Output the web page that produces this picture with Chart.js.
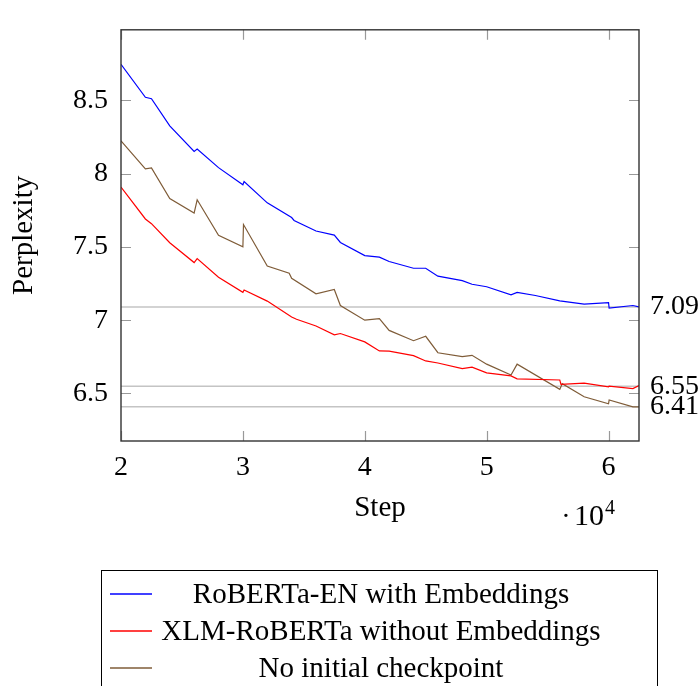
<!DOCTYPE html>
<html><head><meta charset="utf-8">
<script src="https://cdn.jsdelivr.net/npm/chart.js@4.4.0/dist/chart.umd.min.js"></script>
<style>html,body{margin:0;padding:0;background:#fff}#wrap{width:699px;height:686px;position:relative}canvas{display:block}</style>
</head><body><div id="wrap"><canvas id="c" width="699" height="686"></canvas></div>
<script>
const FONT = '"Liberation Serif", "Times New Roman", serif';
const FS = 28;

const xTicks = [20000, 30000, 40000, 50000, 60000];
const yTicks = [6.5, 7, 7.5, 8, 8.5];
const xMin = 20000, xMax = 62500;
const yMin = 6.176, yMax = 8.98;

const refValues = [7.09, 6.55, 6.41];
const refLabels = ['7.09', '6.55', '6.41'];

const seriesNames = ['RoBERTa-EN with Embeddings', 'XLM-RoBERTa without Embeddings', 'No initial checkpoint'];
const seriesColors = ['#0000ff', '#ff0000', '#7f5c38'];

const robertaSteps = [20000,22000,22500,24000,26000,26250,28000,30000,30100,32000,34000,34200,36000,37500,38000,40000,41200,42000,44000,45000,46000,48000,48800,50000,52000,52500,54000,56000,58000,60000,60050,62000,62500];
const robertaPpl = [8.745,8.52,8.51,8.325,8.151,8.167,8.04,7.923,7.945,7.80,7.70,7.68,7.608,7.58,7.53,7.44,7.43,7.40,7.354,7.354,7.30,7.27,7.245,7.228,7.173,7.189,7.168,7.132,7.11,7.12,7.082,7.10,7.09];

const xlmSteps = [20000,22000,22500,24000,26000,26250,28000,30000,30100,32000,34000,34400,36000,37500,38000,40000,41200,42000,44000,45000,46000,48000,48800,50000,52000,52500,56000,56100,58000,60000,60050,62000,62500];
const xlmPpl = [7.908,7.69,7.658,7.528,7.393,7.42,7.293,7.19,7.206,7.13,7.022,7.006,6.96,6.90,6.909,6.852,6.79,6.789,6.758,6.722,6.708,6.67,6.68,6.641,6.62,6.60,6.592,6.562,6.57,6.546,6.55,6.533,6.554];

const scratchSteps = [20000,22000,22500,24000,26000,26250,28000,30000,30050,32000,33800,34000,36000,37500,38000,40000,41200,42000,44000,45000,46000,48000,48800,50000,52000,52500,56000,56200,58000,60000,60050,62000,62500];
const scratchPpl = [8.223,8.032,8.038,7.830,7.73,7.821,7.578,7.50,7.652,7.369,7.32,7.285,7.18,7.209,7.10,7.00,7.01,6.93,6.86,6.89,6.778,6.752,6.76,6.70,6.626,6.70,6.528,6.567,6.478,6.43,6.456,6.409,6.409];

const zip = (xs, ys) => xs.map((x, i) => ({x, y: ys[i]}));

const datasets = [
  {label: seriesNames[0], data: zip(robertaSteps, robertaPpl), borderColor: seriesColors[0]},
  {label: seriesNames[1], data: zip(xlmSteps, xlmPpl), borderColor: seriesColors[1]},
  {label: seriesNames[2], data: zip(scratchSteps, scratchPpl), borderColor: seriesColors[2]},
].map(d => Object.assign(d, {borderWidth: 1.2, pointRadius: 0, tension: 0, fill: false, order: 1}));

refValues.forEach(v => datasets.push({
  label: 'ref', data: [{x: xMin, y: v}, {x: xMax, y: v}],
  borderColor: '#c4c4c4', borderWidth: 1.5, pointRadius: 0, order: 10
}));

const decor = {
  id: 'decor',
  afterDraw(chart) {
    const ctx = chart.ctx, a = chart.chartArea;
    const xs = chart.scales.x, ys = chart.scales.y;
    ctx.save();
    // inward ticks
    ctx.strokeStyle = '#999';
    ctx.lineWidth = 1.2;
    ctx.beginPath();
    xTicks.forEach(v => {
      const px = Math.round(xs.getPixelForValue(v)) + 0.5;
      ctx.moveTo(px, a.bottom); ctx.lineTo(px, a.bottom - 10);
      ctx.moveTo(px, a.top); ctx.lineTo(px, a.top + 10);
    });
    yTicks.forEach(v => {
      const py = Math.round(ys.getPixelForValue(v)) + 0.5;
      ctx.moveTo(a.left, py); ctx.lineTo(a.left + 10, py);
      ctx.moveTo(a.right, py); ctx.lineTo(a.right - 10, py);
    });
    ctx.stroke();
    // frame
    ctx.strokeStyle = '#333';
    ctx.lineWidth = 1.4;
    ctx.strokeRect(a.left, a.top, a.right - a.left, a.bottom - a.top);
    // ref labels
    ctx.fillStyle = '#000';
    ctx.font = FS + 'px ' + FONT;
    ctx.textAlign = 'left';
    ctx.textBaseline = 'middle';
    refValues.forEach((v, i) => ctx.fillText(refLabels[i], a.right + 11, ys.getPixelForValue(v)));
    // x multiplier
    ctx.textBaseline = 'alphabetic';
    ctx.textAlign = 'center';
    ctx.fillText('·', 566, 525);
    ctx.textAlign = 'left';
    ctx.font = '30px ' + FONT;
    ctx.fillText('10', 574, 525);
    const w10 = ctx.measureText('10').width;
    ctx.font = '20px ' + FONT;
    ctx.fillText('4', 574 + w10 + 1, 514);
    // legend
    ctx.strokeStyle = '#000';
    ctx.lineWidth = 1;
    ctx.strokeRect(101.5, 570.5, 556, 200);
    const rowsY = [594, 631, 668];
    ctx.font = '29px ' + FONT;
    ctx.textAlign = 'center';
    seriesNames.forEach((name, i) => {
      ctx.strokeStyle = seriesColors[i];
      ctx.lineWidth = 1.3;
      ctx.beginPath();
      ctx.moveTo(110, rowsY[i]); ctx.lineTo(152, rowsY[i]);
      ctx.stroke();
      ctx.fillStyle = '#000';
      ctx.fillText(name, 381, rowsY[i] + 9);
    });
    ctx.restore();
  }
};

new Chart(document.getElementById('c'), {
  type: 'line',
  data: {datasets},
  options: {
    responsive: false,
    animation: false,
    devicePixelRatio: 1,
    layout: {padding: {left: 0, right: 60, top: 10, bottom: 0}},
    plugins: {legend: {display: false}, tooltip: {enabled: false}},
    scales: {
      x: {
        type: 'linear', min: xMin, max: xMax,
        afterBuildTicks: s => { s.ticks = xTicks.map(v => ({value: v})); },
        afterFit: s => { s.height = 245; },
        grid: {display: false, drawTicks: false},
        border: {display: false},
        ticks: {color: '#000', font: {family: FONT, size: FS}, padding: 10, maxRotation: 0, callback: v => String(v / 10000)},
        title: {display: true, text: 'Step', color: '#000', font: {family: FONT, size: 29}, padding: {top: 0, bottom: 160}}
      },
      y: {
        type: 'linear', min: yMin, max: yMax,
        afterBuildTicks: s => { s.ticks = yTicks.map(v => ({value: v})); },
        afterFit: s => { s.width = 121; },
        grid: {display: false, drawTicks: false},
        border: {display: false},
        ticks: {color: '#000', font: {family: FONT, size: FS}, padding: 13, callback: v => String(v)},
        title: {display: true, text: 'Perplexity', color: '#000', font: {family: FONT, size: 29}, padding: {top: 7, bottom: 0}}
      }
    }
  },
  plugins: [decor]
});
</script>
</body></html>
